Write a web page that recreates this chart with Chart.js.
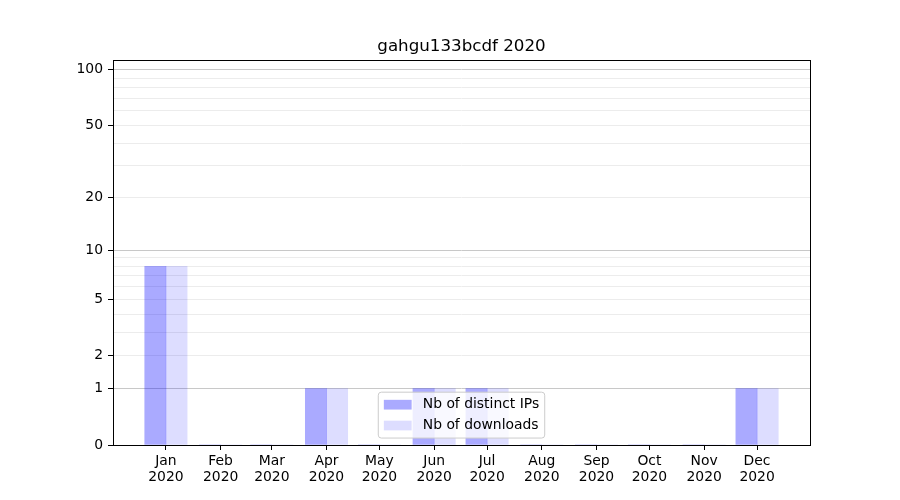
<!DOCTYPE html>
<html>
<head>
<meta charset="utf-8">
<script src="https://cdn.jsdelivr.net/npm/chart.js@4.4.0/dist/chart.umd.min.js"></script>
<style>
  html, body { margin: 0; padding: 0; background: #fff; }
  #grafico { display: block; }
</style>
</head>
<body>
<canvas id="grafico" width="900" height="500"></canvas>
<script>
const titleText = 'gahgu133bcdf 2020';
const year = 2020;
const months = ['Jan', 'Feb', 'Mar', 'Apr', 'May', 'Jun', 'Jul', 'Aug', 'Sep', 'Oct', 'Nov', 'Dec'];
const distinctIps = [8, 0, 0, 1, 0, 1, 1, 0, 0, 0, 0, 1];
const downloads = [8, 0, 0, 1, 0, 1, 1, 0, 0, 0, 0, 1];
const seriesLabels = ['Nb of distinct IPs', 'Nb of downloads'];

// y axis: log(1 + v) scale
const yLabelTicks = [0, 1, 2, 5, 10, 20, 50, 100];
const yMajorGrid = [1, 10, 100];
const yMinorGrid = [2, 3, 4, 5, 6, 7, 8, 9, 20, 30, 40, 50, 60, 70, 80, 90];
const yTop = 113;

// x axis in days since 1 Jan (time axis)
const xStartDay = -30;
const xEndDay = 365;

const FONT = 'DejaVu Sans';
const FS = 13.9;

const toY = v => Math.log10(1 + v);
const fromY = t => Math.round(Math.pow(10, t) - 1);
const dayOfMonth = i => (Date.UTC(year, i, 1) - Date.UTC(year, 0, 1)) / 86400000;
const monthDays = months.map((m, i) => dayOfMonth(i));

Chart.defaults.font.family = FONT;
Chart.defaults.font.size = FS;
Chart.defaults.color = '#000';

// title above the plot area
const titlePlugin = {
    id: 'titlePlugin',
    afterDraw(chart) {
        const { ctx, chartArea } = chart;
        ctx.save();
        ctx.font = `16.7px "${FONT}"`;
        ctx.fillStyle = '#000';
        ctx.textAlign = 'center';
        ctx.textBaseline = 'alphabetic';
        ctx.fillText(titleText, (chartArea.left + chartArea.right) / 2, chartArea.top - 8.8);
        ctx.restore();
    }
};

// black frame around the axes
const framePlugin = {
    id: 'framePlugin',
    afterDatasetsDraw(chart) {
        const { ctx, chartArea } = chart;
        const l = Math.floor(chartArea.left) + 0.5;
        const t = Math.floor(chartArea.top) + 0.5;
        const r = Math.floor(chartArea.right) + 0.5;
        const b = Math.floor(chartArea.bottom) + 0.5;
        ctx.save();
        ctx.strokeStyle = '#000';
        ctx.lineWidth = 1;
        ctx.strokeRect(l, t, r - l, b - t);
        ctx.restore();
    }
};

// legend inside the axes, lower center
const legendPlugin = {
    id: 'legendPlugin',
    afterDraw(chart) {
        const { ctx, chartArea } = chart;
        const items = chart.data.datasets;
        ctx.save();
        ctx.font = `${FS}px "${FONT}"`;
        const textW = Math.max(...items.map(d => ctx.measureText(d.label).width));
        const pad = 0.4 * FS;
        const handleW = 2 * FS;
        const handleGap = 0.8 * FS;
        const rowH = FS;
        const rowGap = 0.5 * FS;
        const w = 2 * pad + handleW + handleGap + textW;
        const h = 2 * pad + items.length * rowH + (items.length - 1) * rowGap;
        const x = (chartArea.left + chartArea.right) / 2 - w / 2;
        const y = chartArea.bottom - 0.5 * FS - h;
        const rad = 3;

        ctx.beginPath();
        ctx.moveTo(x + rad, y);
        ctx.lineTo(x + w - rad, y);
        ctx.arcTo(x + w, y, x + w, y + rad, rad);
        ctx.lineTo(x + w, y + h - rad);
        ctx.arcTo(x + w, y + h, x + w - rad, y + h, rad);
        ctx.lineTo(x + rad, y + h);
        ctx.arcTo(x, y + h, x, y + h - rad, rad);
        ctx.lineTo(x, y + rad);
        ctx.arcTo(x, y, x + rad, y, rad);
        ctx.closePath();
        ctx.fillStyle = 'rgba(255,255,255,0.8)';
        ctx.fill();
        ctx.strokeStyle = '#cccccc';
        ctx.lineWidth = 1;
        ctx.stroke();

        items.forEach((d, i) => {
            const cy = y + pad + rowH / 2 + i * (rowH + rowGap);
            ctx.fillStyle = d.backgroundColor;
            ctx.fillRect(x + pad, cy - 0.35 * FS, handleW, 0.7 * FS);
            ctx.fillStyle = '#000';
            ctx.textAlign = 'left';
            ctx.textBaseline = 'middle';
            ctx.fillText(d.label, x + pad + handleW + handleGap, cy);
        });
        ctx.restore();
    }
};

const toPoints = values => values.map((v, i) => ({ x: monthDays[i], y: toY(v) }));

new Chart(document.getElementById('grafico'), {
    type: 'bar',
    data: {
        datasets: [{
            label: seriesLabels[0],
            data: toPoints(distinctIps),
            backgroundColor: 'rgba(0,0,255,0.333)',
            borderWidth: 0,
            barThickness: 21.2
        }, {
            label: seriesLabels[1],
            data: toPoints(downloads),
            backgroundColor: 'rgba(0,0,255,0.133)',
            borderWidth: 0,
            barThickness: 21.2
        }]
    },
    options: {
        responsive: false,
        animation: false,
        devicePixelRatio: 1,
        layout: { padding: { left: 0, right: 90, top: 60, bottom: 0 } },
        plugins: {
            legend: { display: false },
            title: { display: false },
            tooltip: { enabled: false }
        },
        scales: {
            x: {
                type: 'linear',
                min: xStartDay,
                max: xEndDay,
                offset: false,
                border: { display: false },
                grid: {
                    offset: false,
                    drawOnChartArea: false,
                    drawTicks: true,
                    tickLength: 5,
                    tickColor: '#000'
                },
                ticks: {
                    autoSkip: false,
                    maxRotation: 0,
                    padding: 3,
                    font: { size: FS, lineHeight: 1.17 },
                    callback: (value, index) => [months[index], String(year)]
                },
                afterBuildTicks: scale => {
                    scale.ticks = monthDays.map(v => ({ value: v }));
                },
                afterFit: scale => { scale.height = 55; }
            },
            y: {
                type: 'linear',
                min: 0,
                max: toY(yTop),
                border: { display: false },
                grid: {
                    drawTicks: true,
                    tickLength: 5,
                    color: ctx => {
                        const v = fromY(ctx.tick.value);
                        if (yMajorGrid.includes(v)) return '#c8c8c8';
                        if (yMinorGrid.includes(v)) return '#ececec';
                        return 'rgba(0,0,0,0)';
                    },
                    tickColor: ctx => yLabelTicks.includes(fromY(ctx.tick.value)) ? '#000' : 'rgba(0,0,0,0)'
                },
                ticks: {
                    autoSkip: false,
                    padding: 5,
                    callback: value => {
                        const v = fromY(value);
                        return yLabelTicks.includes(v) ? String(v) : '';
                    }
                },
                afterBuildTicks: scale => {
                    const all = [...new Set([...yLabelTicks, ...yMajorGrid, ...yMinorGrid])].sort((a, b) => a - b);
                    scale.ticks = all.map(v => ({ value: toY(v) }));
                },
                afterFit: scale => { scale.width = 113; }
            }
        }
    },
    plugins: [titlePlugin, framePlugin, legendPlugin]
});
</script>
</body>
</html>
